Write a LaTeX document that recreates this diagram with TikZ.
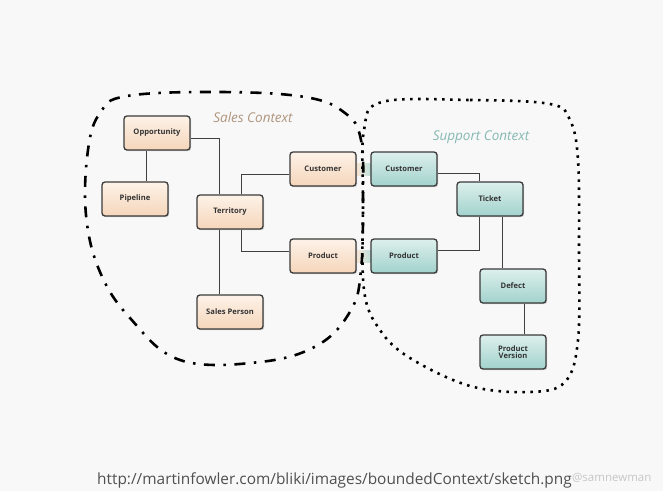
\documentclass[tikz,border=0pt]{standalone}
\usepackage{fontspec}
\setmainfont{Open Sans}
\usetikzlibrary{shadows,backgrounds}
\definecolor{bg}{HTML}{F8F8F8}
\definecolor{peachT}{HTML}{FDF2E8}
\definecolor{peachB}{HTML}{F5D6BA}
\definecolor{tealT}{HTML}{DDF0ED}
\definecolor{tealB}{HTML}{A2D2CC}
\definecolor{boxline}{HTML}{3A3A3A}
\definecolor{salesc}{HTML}{B0957E}
\definecolor{suppc}{HTML}{86B8B3}
\definecolor{urlc}{HTML}{505050}
\tikzset{
  ent/.style={draw=boxline, line width=1.3pt, rounded corners=3pt,
    minimum width=66pt, minimum height=34pt, align=center,
    font=\fontsize{7.6}{8.4}\selectfont\bfseries, text=black!80,
    drop shadow={shadow xshift=1.2pt, shadow yshift=-1.2pt, opacity=0.35}},
  sales/.style={ent, top color=peachT, bottom color=peachB},
  supp/.style={ent, top color=tealT, bottom color=tealB},
  link/.style={draw=black!75, line width=1pt},
  ctxlabel/.style={font=\fontsize{13.5}{15}\selectfont\itshape},
}
\begin{document}
\begin{tikzpicture}[x=1pt,y=-1pt]
\useasboundingbox (0,0) rectangle (663,491);

\node[sales] (sc) at (323,169) {Customer};
\node[sales] (sp) at (323,256) {Product};
\node[supp] (tc) at (404,169) {Customer};
\node[supp] (tp) at (404,256) {Product};

\node[sales] (opp) at (157,133) {Opportunity};
\node[sales] (pip) at (135,199) {Pipeline};
\node[sales] (ter) at (230,212) {Territory};
\node[sales] (spn) at (230,312) {Sales Person};

\node[supp] (tic) at (490,199) {Ticket};
\node[supp] (def) at (513,286) {Defect};
\node[supp] (pv) at (513,352) {Product\\[-1pt]Version};

\begin{scope}[on background layer]
\path[fill=bg] (0,0) rectangle (663,491);
\path[left color=peachB!60, right color=tealB!70]
  ([yshift=-6pt]sc.east) rectangle ([yshift=6pt]tc.west);
\path[left color=peachB!60, right color=tealB!70]
  ([yshift=-6pt]sp.east) rectangle ([yshift=6pt]tp.west);
\draw[line width=2.6pt, dash pattern=on 11pt off 8.5pt on 2.5pt off 8.5pt]
  plot[smooth cycle, tension=0.65] coordinates {
  (127,96) (220,92) (305,97) (345,113) (361,140) (363,200) (361,270)
  (351,310) (318,345) (260,362) (180,360) (130,318) (100,272) (86,215)
  (88,150) (100,113)};
\draw[line width=2.6pt, dash pattern=on 2.5pt off 5.5pt]
  plot[smooth cycle, tension=0.6] coordinates {
  (382,102) (470,100) (550,104) (570,120) (578,160) (579,250) (578,340)
  (565,382) (530,392) (470,386) (410,358) (380,330) (364,290) (363,200)
  (364,130)};
\end{scope}

\draw[link] (pip.north -| 146,0) -- (opp.south -| 146,0);
\draw[link] (opp.east |- 0,138) -- (219,138) -- (ter.north -| 219,0);
\draw[link] (ter.north -| 241,0) -- (241,174) -- (sc.west |- 0,174);
\draw[link] (ter.south -| 241,0) -- (241,251) -- (sp.west |- 0,251);
\draw[link] (ter.south -| 219,0) -- (spn.north -| 219,0);

\draw[link] (tc.east |- 0,173) -- (479,173) -- (tic.north -| 479,0);
\draw[link] (tp.east |- 0,250) -- (479,250) -- (tic.south -| 479,0);
\draw[link] (tic.south -| 502,0) -- (def.north -| 502,0);
\draw[link] (def.south -| 524,0) -- (pv.north -| 524,0);

\node[ctxlabel, text=salesc] (sl) at (253,117) {Sales Context};
\node[ctxlabel, text=suppc] (tl) at (481,137) {Support Context};

\node[anchor=base west, font=\fontsize{15.4}{17}\selectfont, text=urlc, inner sep=0pt]
  (url) at (97,484) {http://martinfowler.com/bliki/images/boundedContext/sketch.png};
\node[anchor=base west, font=\fontsize{11.5}{12}\selectfont, text=black!22, inner sep=0pt]
  (sn) at ([yshift=3pt]url.base east) {@samnewman};
\end{tikzpicture}
\end{document}
